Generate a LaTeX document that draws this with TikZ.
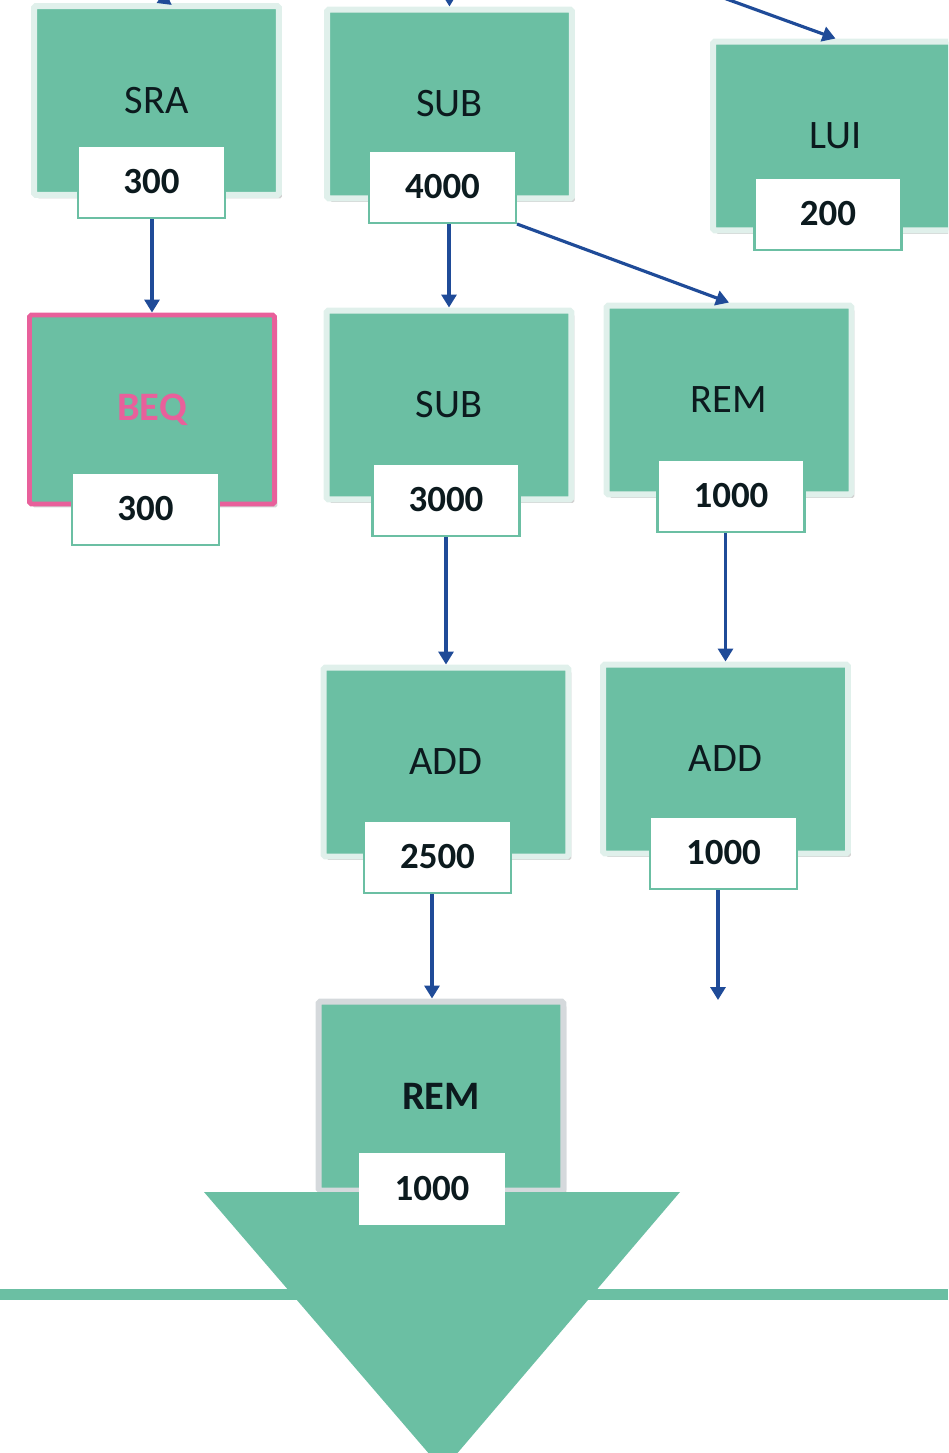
\documentclass[tikz,border=0pt]{standalone}
\usepackage{fontspec}
\setmainfont{Carlito}
\usetikzlibrary{arrows.meta,shadows}

\definecolor{opgreen}{RGB}{107,191,163}
\definecolor{oprim}{RGB}{224,240,235}
\definecolor{oppink}{RGB}{232,96,155}
\definecolor{opblue}{RGB}{31,75,152}
\definecolor{optext}{RGB}{12,26,30}
\definecolor{opgray}{RGB}{213,217,220}

\begin{document}
\begin{tikzpicture}[x=0.02cm, y=-0.02cm, >={Triangle[length=2.6mm, width=3mm]},
	op/.style={draw=oprim, fill=opgreen, line width=3.4pt, rounded corners=1pt, minimum width=4.9cm, minimum height=3.78cm, inner sep=0pt, text=optext, font=\fontsize{23}{26}\selectfont, drop shadow={opacity=0.35, shadow xshift=0.6mm, shadow yshift=-0.7mm}},
	cnt/.style={draw=opgreen, fill=white, line width=1.2pt, minimum width=2.94cm, minimum height=1.44cm, inner sep=0pt, text=optext, font=\fontsize{21}{24}\selectfont\bfseries},
	flow/.style={->, opblue, line width=1.8pt}]
	\useasboundingbox (0,0) rectangle (948,1453);
	\clip (0,0) rectangle (948,1453);
	% instruction boxes
	\node[op] (sra) at (156.5,100.5) {SRA};
	\node[op] (sub) at (449.5,104) {SUB};
	\node[op] (lui) at (835.5,136) {LUI};
	\node[op, draw=oppink, line width=2.8pt, text=oppink, font=\fontsize{23}{26}\selectfont\bfseries] (beq) at (152,409.5) {BEQ};
	\node[op] (subb) at (449,405) {SUB};
	\node[op] (rem) at (729,400) {REM};
	\node[op] (add) at (446,762) {ADD};
	\node[op] (addb) at (725.5,759) {ADD};
	\node[op, draw=opgray, font=\fontsize{23}{26}\selectfont\bfseries] (remb) at (441,1096) {REM};
	% cycle counts
	\node[cnt] (lsra) at (151.5,182) {300};
	\node[cnt] (lsub) at (442.5,187) {4000};
	\node[cnt] (llui) at (828,214) {200};
	\node[cnt] (lbeq) at (145.5,509) {300};
	\node[cnt] (lsubb) at (446,500) {3000};
	\node[cnt] (lrem) at (731,496) {1000};
	\node[cnt] (ladd) at (437.5,857) {2500};
	\node[cnt] (laddb) at (723.5,853) {1000};
	% big arrow at the bottom
	\fill[opgreen] (0,1289) rectangle (948,1300);
	\fill[opgreen] (204,1192) -- (680,1192) -- (443,1470) -- cycle;
	\node[cnt, draw=none] (lremb) at (432,1188.5) {1000};
	% dependencies
	\coordinate (srain) at (250,-40);
	\coordinate (subin) at (449,-40);
	\coordinate (luiin) at (619,-40);
	\coordinate (exit) at (718,1000);
	\draw[flow] (srain) -- (sra.north);
	\draw[flow] (subin) -- (sub.north);
	\draw[flow] (luiin) -- (lui.north);
	\draw[flow] (beq.north |- lsra.south) -- (beq.north);
	\draw[flow] (subb.north |- lsub.south) -- (subb.north);
	\draw[flow] (lsub.south east) -- (rem.north);
	\draw[flow] (add.north |- lsubb.south) -- (add.north);
	\draw[flow] (addb.north |- lrem.south) -- (addb.north);
	\draw[flow] (lremb.north |- ladd.south) -- (lremb.north |- remb.north);
	\draw[flow] (exit |- laddb.south) -- (exit);
\end{tikzpicture}
\end{document}
